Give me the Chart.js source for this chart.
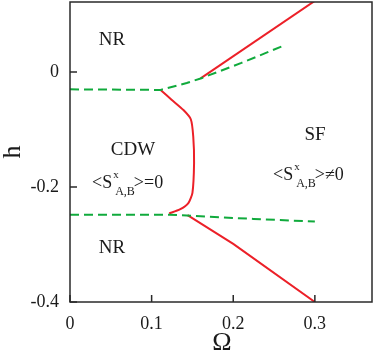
<!DOCTYPE html>
<html>
<head>
<meta charset="utf-8">
<script src="https://cdn.jsdelivr.net/npm/chart.js@4"></script>
<style>
  body { margin: 0; background: #fff; }
  #wrap { width: 374px; height: 352px; position: relative; }
</style>
</head>
<body>
<div id="wrap"><canvas id="phase"></canvas></div>
<script>
// phase boundaries (Omega, h)
const upperGreenX = [0, 0.111, 0.143, 0.160, 0.210, 0.260];
const upperGreenY = [-0.030, -0.031, -0.019, -0.011, 0.016, 0.045];

const upperRedX = [0.160, 0.300];
const upperRedY = [-0.011, 0.124];

const cdwX = [0.111, 0.1244, 0.139, 0.148, 0.151, 0.152, 0.150, 0.145, 0.1346, 0.1215];
const cdwY = [-0.031, -0.048, -0.066, -0.082, -0.112, -0.158, -0.210, -0.228, -0.239, -0.246];

const lowerGreenX = [0, 0.1215, 0.143, 0.225, 0.300];
const lowerGreenY = [-0.248, -0.248, -0.2495, -0.2555, -0.260];

const lowerRedX = [0.144, 0.200, 0.300];
const lowerRedY = [-0.249, -0.299, -0.400];

const xTicks = [0, 0.1, 0.2, 0.3];
const xTickLabels = ['0', '0.1', '0.2', '0.3'];
const yTicks = [-0.4, -0.2, 0];
const yTickLabels = ['-0.4', '-0.2', '0'];

const RED = 'rgb(236, 32, 40)';
const GREEN = 'rgb(16, 170, 60)';
const SERIF = '"Liberation Serif", "DejaVu Serif", serif';

function pts(xs, ys) {
  return xs.map((x, i) => ({ x: x, y: ys[i] }));
}

function line(xs, ys, color, dashed, tension) {
  return {
    data: pts(xs, ys),
    showLine: true,
    borderColor: color,
    borderWidth: 2,
    borderDash: dashed ? [9, 5] : [],
    pointRadius: 0,
    tension: tension || 0,
    fill: false
  };
}

// draws <S^x_{A,B}> followed by the rest, starting at x (left), baseline y
function drawOrder(ctx, x, y, rest) {
  ctx.textAlign = 'left';
  ctx.textBaseline = 'alphabetic';
  ctx.font = '18px ' + SERIF;
  ctx.fillText('<S', x, y);
  let cx = x + ctx.measureText('<S').width;
  ctx.font = '11px ' + SERIF;
  ctx.fillText('x', cx + 1, y - 10);
  ctx.font = '12px ' + SERIF;
  ctx.fillText('A,B', cx + 3, y + 7);
  cx += 3 + ctx.measureText('A,B').width;
  ctx.font = '18px ' + SERIF;
  ctx.fillText(rest, cx - 1, y);
}

// keep the plot box fixed: no extra room for half-height edge labels
function noEdgePadding(s) {
  s.paddingTop = 0;
  s.paddingBottom = 0;
  s.paddingLeft = 0;
  s.paddingRight = 0;
}

const decorations = {
  id: 'decorations',
  afterDraw(chart) {
    const ctx = chart.ctx;
    const a = chart.chartArea;
    const xs = chart.scales.x, ys = chart.scales.y;
    ctx.save();
    ctx.strokeStyle = '#2a2a2a';
    ctx.lineWidth = 1.5;
    ctx.strokeRect(a.left, a.top, a.right - a.left, a.bottom - a.top);

    // inward tick marks
    ctx.beginPath();
    xTicks.forEach(v => {
      const px = xs.getPixelForValue(v);
      ctx.moveTo(px, a.bottom);
      ctx.lineTo(px, a.bottom - 7);
    });
    yTicks.forEach(v => {
      const py = ys.getPixelForValue(v);
      ctx.moveTo(a.left, py);
      ctx.lineTo(a.left + 7, py);
    });
    ctx.stroke();

    ctx.fillStyle = '#1a1a1a';
    ctx.textAlign = 'center';
    ctx.textBaseline = 'alphabetic';
    ctx.font = '19px ' + SERIF;
    ctx.fillText('NR', 112, 45);
    ctx.fillText('NR', 112, 253);
    ctx.fillText('CDW', 133, 155);
    ctx.fillText('SF', 315, 140);

    drawOrder(ctx, 92, 188, '>=0');
    drawOrder(ctx, 273, 180, '>\u22600');

    // axis titles
    ctx.textAlign = 'center';
    ctx.font = '26px ' + SERIF;
    ctx.fillText('\u03A9', 222, 350);
    ctx.save();
    ctx.translate(20, 152);
    ctx.rotate(-Math.PI / 2);
    ctx.fillText('h', 0, 0);
    ctx.restore();
    ctx.restore();
  }
};

new Chart(document.getElementById('phase'), {
  type: 'scatter',
  data: {
    datasets: [
      line(upperGreenX, upperGreenY, GREEN, true),
      line(lowerGreenX, lowerGreenY, GREEN, true),
      line(upperRedX, upperRedY, RED, false),
      line(cdwX, cdwY, RED, false, 0.2),
      line(lowerRedX, lowerRedY, RED, false)
    ]
  },
  options: {
    responsive: true,
    maintainAspectRatio: false,
    animation: false,
    layout: { padding: { top: 2, right: 2, left: 0, bottom: 0 } },
    plugins: { legend: { display: false }, tooltip: { enabled: false } },
    scales: {
      x: {
        type: 'linear',
        min: 0,
        max: 0.37,
        afterBuildTicks: s => { s.ticks = xTicks.map(v => ({ value: v })); },
        afterFit: s => { s.height = 50; noEdgePadding(s); },
        grid: { display: false, drawTicks: false },
        border: { display: false },
        ticks: {
          padding: 11,
          color: '#1a1a1a',
          font: { family: SERIF, size: 18 },
          maxRotation: 0,
          callback: v => xTickLabels[xTicks.indexOf(v)]
        }
      },
      y: {
        type: 'linear',
        min: -0.4,
        max: 0.122,
        afterBuildTicks: s => { s.ticks = yTicks.map(v => ({ value: v })); },
        afterFit: s => { s.width = 70; noEdgePadding(s); },
        grid: { display: false, drawTicks: false },
        border: { display: false },
        ticks: {
          padding: 11,
          color: '#1a1a1a',
          font: { family: SERIF, size: 18 },
          callback: v => yTickLabels[yTicks.indexOf(v)]
        }
      }
    }
  },
  plugins: [decorations]
});
</script>
</body>
</html>
